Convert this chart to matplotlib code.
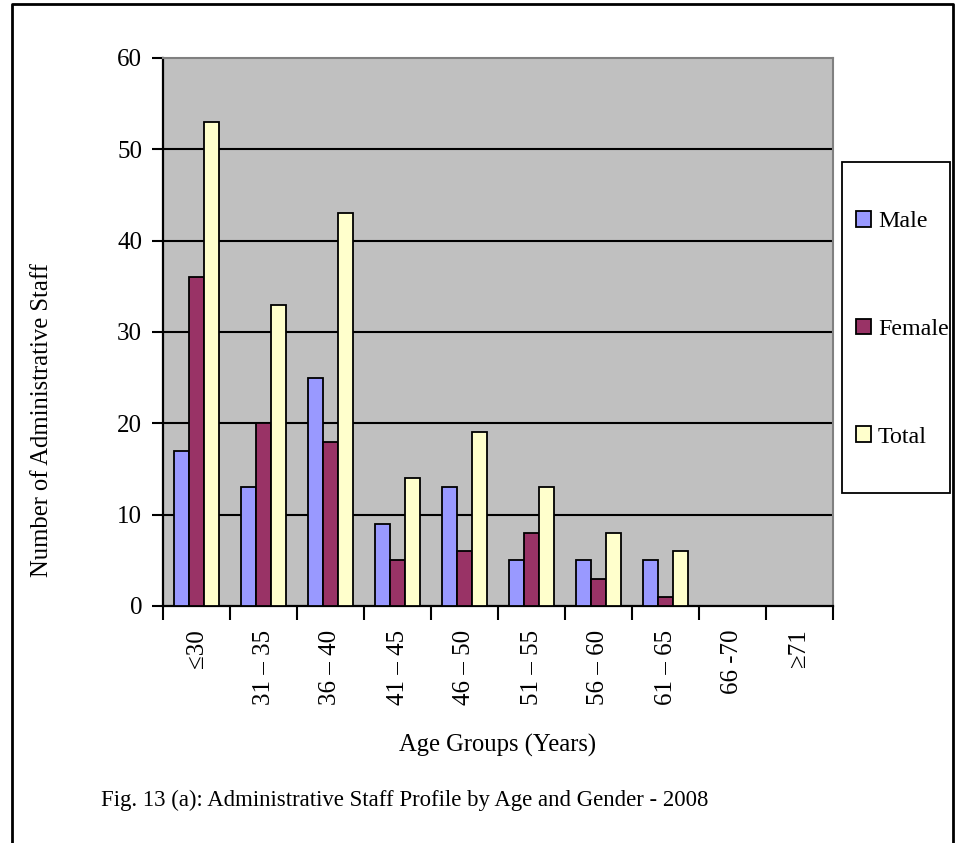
import numpy as np
import matplotlib
matplotlib.use('Agg')
import matplotlib.pyplot as plt
from matplotlib.patches import Rectangle, Patch
from matplotlib.lines import Line2D

plt.rcParams['font.family'] = ['Liberation Serif', 'DejaVu Sans']
plt.rcParams['font.size'] = 18

# data
age_groups = ['≤30', '31 – 35', '36 – 40', '41 – 45', '46 – 50',
              '51 – 55', '56 – 60', '61 – 65', '66 -70', '≥71']
male = [17, 13, 25, 9, 13, 5, 5, 5, 0, 0]
female = [36, 20, 18, 5, 6, 8, 3, 1, 0, 0]
total = [53, 33, 43, 14, 19, 13, 8, 6, 0, 0]
series_names = ['Male', 'Female', 'Total']
colors = ['#9999FF', '#993366', '#FFFFCC']

W, H = 961, 843
fig = plt.figure(figsize=(W / 100, H / 100), dpi=100)

# plot area in pixels: left 163, right 833, top 58, bottom 606
ax = fig.add_axes([163 / W, 1 - 606 / H, 670 / W, 548 / H])
ax.set_facecolor('#C0C0C0')

x = np.arange(len(age_groups))
w = 1 / 4.5  # gap width 150%
for k, (vals, c) in enumerate(zip([male, female, total], colors)):
    ax.bar(x + (k - 1) * w, vals, w, color=c, edgecolor='black', linewidth=1.3, zorder=3)

ax.set_xlim(-0.5, len(age_groups) - 0.5)
ax.set_ylim(0, 60)
ax.set_yticks(range(0, 61, 10))
for yv in range(10, 60, 10):
    ax.axhline(yv, color='black', linewidth=1.5, zorder=1)

# ticks at category boundaries, labels at centres
ax.set_xticks(np.arange(-0.5, len(age_groups), 1.0))
ax.set_xticklabels([])
ax.set_xticks(x, minor=True)
ax.set_xticklabels(age_groups, minor=True, rotation=90, va='top', fontsize=18)
ax.tick_params(axis='x', which='major', length=10, width=1.5, direction='out')
ax.tick_params(axis='x', which='minor', length=0, pad=17)
ax.tick_params(axis='y', length=8, width=1.5, direction='out', pad=7, labelsize=18)

for s in ['left', 'bottom']:
    ax.spines[s].set_linewidth(1.6)
    ax.spines[s].set_color('black')
for s in ['top', 'right']:
    ax.spines[s].set_linewidth(1.5)
    ax.spines[s].set_color('#808080')

# axis titles and caption
fig.text(42 / W, 1 - 420 / H, 'Number of Administrative Staff', rotation=90,
         ha='center', va='center', fontsize=17.7)
fig.text(498 / W, 1 - 745 / H, 'Age Groups (Years)', ha='center', va='center',
         fontsize=17.7)
fig.text(405 / W, 1 - 800 / H, 'Fig. 13 (a): Administrative Staff Profile by Age and Gender - 2008',
         ha='center', va='center', fontsize=16.4)

# legend
handles = [Patch(facecolor=c, edgecolor='black', linewidth=1.3) for c in colors]
fig.legend(handles, series_names, loc='upper left',
           bbox_to_anchor=(844 / W, 1 - 199 / H), frameon=False,
           fontsize=17.3, handlelength=0.62, handleheight=0.62,
           handletextpad=0.3, labelspacing=3.6, borderpad=0)
fig.add_artist(Rectangle((842 / W, 1 - 493 / H), 108 / W, 331 / H,
                         transform=fig.transFigure, fill=False,
                         edgecolor='black', linewidth=1.3))

# outer frame (open at the bottom)
fx0, fx1, fy = 12 / W, 953 / W, 1 - 4 / H
fig.add_artist(Line2D([fx0, fx0, fx1, fx1], [0, fy, fy, 0],
                      transform=fig.transFigure, color='black', linewidth=2))

fig.savefig('out.png', dpi=100)
